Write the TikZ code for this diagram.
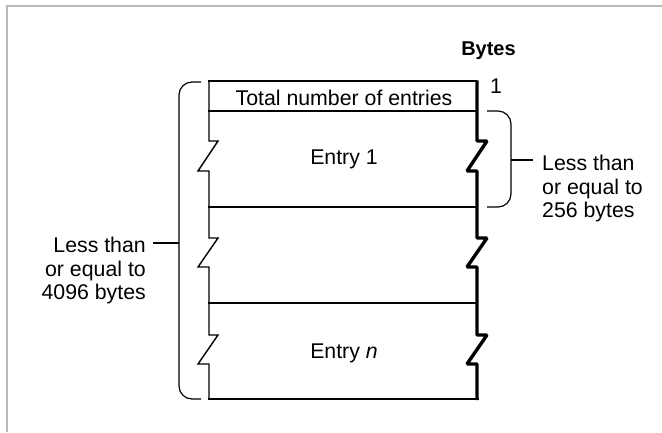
\documentclass[tikz,border=0pt]{standalone}
\usepackage{fontspec}
\setmainfont{Liberation Sans}
\begin{document}
\begin{tikzpicture}[x=1pt,y=-1pt,
  txt/.style={font=\fontsize{21.3}{23.6}\selectfont, inner sep=0pt},
  rowline/.style={line width=1.2pt},
  leftedge/.style={line width=1.4pt, line join=miter},
  shadowedge/.style={line width=3.4pt, line join=bevel},
  bracket/.style={line width=1.2pt, rounded corners=13pt},
  tick/.style={line width=1.2pt},
  frame/.style={draw=gray!55, line width=1.6pt}]
\useasboundingbox (0,0) rectangle (662,432);
\draw[frame] (7,432) -- (7,6) -- (662,6);

% horizontal rules
\draw[rowline] (208,81) -- (477,81);
\draw[rowline] (208,111) -- (477,111);
\draw[rowline] (208,207) -- (477,207);
\draw[rowline] (208,303) -- (477,303);
\draw[line width=2.2pt] (208.3,399) -- (478.7,399);

% left edge with breaks
\draw[leftedge] (209,81) -- (209,141) -- (218,141) -- (198,171) -- (209,171)
  -- (209,238) -- (218,238) -- (198,267) -- (209,267)
  -- (209,335) -- (218,335) -- (198,364) -- (209,364) -- (209,399);

% right (shadowed) edge with breaks
\draw[shadowedge] (477,80.4) -- (477,141) -- (487,141) -- (467,171) -- (477,171)
  -- (477,238) -- (487,238) -- (467,267) -- (477,267)
  -- (477,335) -- (487,335) -- (467,364) -- (477,364) -- (477,400);

% texts
\node[txt, anchor=base] (total) at (344,105) {Total number of entries};
\node[txt, anchor=base] (e1) at (344,164) {Entry 1};
\node[txt, anchor=base] (en) at (344,358) {Entry \textit{n}};
\node[txt, font=\bfseries\fontsize{20}{22}\selectfont, anchor=base] (bytes) at (488.5,55) {Bytes};
\node[txt, anchor=base west] (one) at (490,93) {1};
\node[txt, align=left, anchor=north west] (r256) at (542,155) {Less than\\or equal to\\256 bytes};
\node[txt, align=right, anchor=north east] (l4096) at (146,237) {Less than\\or equal to\\4096 bytes};

% right bracket (entry size)
\coordinate (rbtop) at (487,111);
\coordinate (rbbot) at (487,207);
\coordinate (rbmid) at (511,160);
\coordinate (rbtip) at (533,160);
\draw[bracket] (rbtop) -- (511,111) -- (511,207) -- (rbbot);
\draw[tick] (rbmid) -- (rbtip);

% left bracket (total size)
\coordinate (lbtop) at (201,82);
\coordinate (lbbot) at (201,399);
\coordinate (lbmid) at (179,243);
\coordinate (lbtip) at (153,243);
\draw[bracket] (lbtop) -- (179,82) -- (179,399) -- (lbbot);
\draw[tick] (lbmid) -- (lbtip);
\end{tikzpicture}
\end{document}
